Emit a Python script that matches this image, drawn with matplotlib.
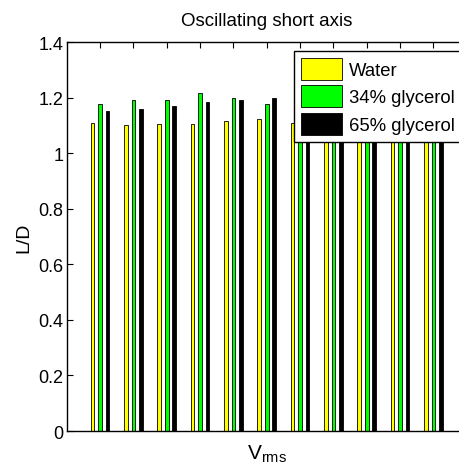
import numpy as np
import matplotlib
matplotlib.use("Agg")
import matplotlib.pyplot as plt

plt.rcParams["font.family"] = ["Liberation Sans", "DejaVu Sans"]

# L/D per Vrms step (11 steps); values hidden behind the legend are estimated
groups = np.arange(1, 12)
water = [1.110, 1.100, 1.104, 1.104, 1.114, 1.122, 1.110, 1.112, 1.108, 1.115, 1.110]
glyc34 = [1.176, 1.190, 1.190, 1.216, 1.198, 1.176, 1.185, 1.180, 1.190, 1.185, 1.180]
glyc65 = [1.150, 1.158, 1.168, 1.185, 1.190, 1.198, 1.190, 1.192, 1.188, 1.195, 1.190]
series_names = ["Water", "34% glycerol", "65% glycerol"]
yticks = [0, 0.2, 0.4, 0.6, 0.8, 1, 1.2, 1.4]
ytick_labels = ["0", "0.2", "0.4", "0.6", "0.8", "1", "1.2", "1.4"]

fig = plt.figure(figsize=(4.6, 4.77), dpi=100)
# right edge runs past the figure border, as in the reference
ax = fig.add_axes([0.145, 0.0943, 0.8696, 0.8155])

w = 0.11
off = 0.222
colors = ["#ffff00", "#00ff00", "#000000"]
for k, (vals, c, name) in enumerate(zip([water, glyc34, glyc65], colors, series_names)):
    ax.bar(groups + (k - 1) * off, vals, width=w, color=c, edgecolor="black",
           linewidth=0.6, label=name, zorder=2)

ax.set_xlim(0, 12)
ax.set_ylim(0, 1.4)
ax.set_xticks(groups)
ax.set_xticklabels([])
ax.set_yticks(yticks)
ax.set_yticklabels(ytick_labels)
ax.tick_params(direction="in", top=True, right=False, length=4, width=0.8,
               labelsize=13, pad=2.5)
for s in ax.spines.values():
    s.set_linewidth(1.0)
ax.spines["right"].set_visible(False)

ax.set_title("Oscillating short axis", fontsize=13.5, pad=12)
ax.set_ylabel("L/D", fontsize=14, labelpad=4)
ax.set_xlabel(r"V$_{\mathregular{rms}}$", fontsize=15, labelpad=6)

leg = ax.legend(loc="upper left", bbox_to_anchor=(0.568, 0.977), fontsize=13.3,
                frameon=True, fancybox=False, edgecolor="black", framealpha=1,
                handlelength=2.25, handleheight=1.45, borderpad=0.37,
                labelspacing=0.3, handletextpad=0.35, borderaxespad=0)
leg.get_frame().set_linewidth(1.0)
leg.set_zorder(5)

fig.savefig("out.png", dpi=100)
